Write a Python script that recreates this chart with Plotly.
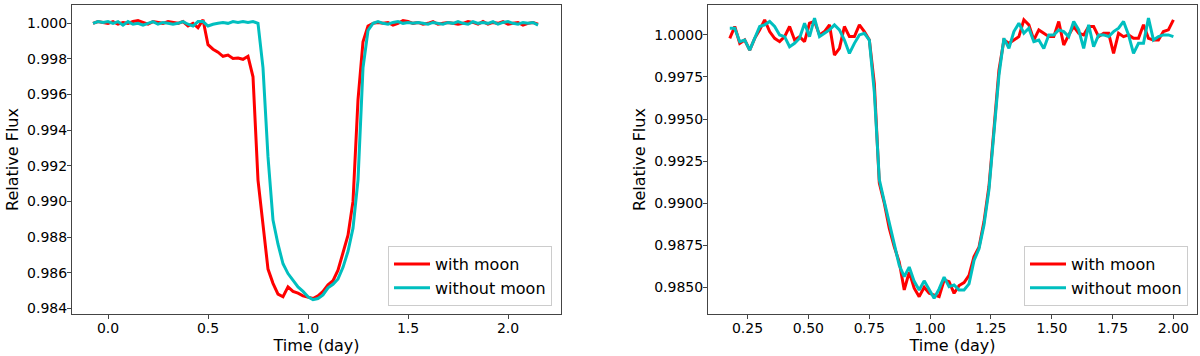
import numpy as np
import plotly.graph_objects as go

# ---- left panel: transit light curve, long sampling ----
t_left = np.round(-0.075 + 0.025 * np.arange(90), 3)

flux_left_moon = [
    1.0000, 1.0001, 1.00005, 1.0000, 1.0001, 0.99995, 1.00005, 1.0000, 1.0001, 1.00015,
    1.00005, 0.99995, 1.0001, 1.00005, 1.0000, 1.0001, 1.00005, 1.0000, 1.0001, 0.99985,
    1.0000, 0.99975, 1.0002, 0.9988, 0.99855, 0.99838, 0.99815, 0.99822, 0.99803, 0.99805,
    0.99798, 0.99815, 0.99700, 0.99120, 0.98870, 0.98620, 0.98540, 0.98480, 0.98465, 0.98520,
    0.98495, 0.98485, 0.98470, 0.98462, 0.98455, 0.98470, 0.98495, 0.98532, 0.98555, 0.98614,
    0.98717, 0.98810, 0.99000, 0.99570, 0.99897, 0.99985, 1.0000, 1.00005, 1.0000, 1.00005,
    0.9999, 1.0000, 1.00015, 1.0001, 1.0000, 1.00005, 0.99995, 1.0000, 1.0001, 0.99995,
    1.0000, 1.00005, 1.0000, 0.99995, 1.0000, 1.0001, 1.00005, 0.99995, 1.0001, 0.99995,
    1.00005, 1.0000, 1.0001, 0.99995, 1.0000, 1.00005, 0.9999, 1.0000, 1.00005, 0.99995,
]
flux_left_nomoon = [
    1.0000, 1.0001, 1.00005, 1.0001, 1.0000, 1.0001, 0.9999, 1.0001, 0.99995, 1.0000,
    0.9999, 1.0000, 1.0001, 0.99995, 1.00005, 1.0000, 0.99995, 1.0000, 1.0001, 0.99995,
    0.99985, 1.0001, 1.0001, 0.99985, 0.99995, 1.0000, 1.00005, 1.0000, 1.0001, 1.00005,
    1.0001, 1.00005, 1.0001, 1.0000, 0.9975, 0.9925, 0.98895, 0.98760, 0.98650, 0.98595,
    0.98555, 0.98520, 0.98495, 0.98465, 0.98448, 0.98455, 0.98475, 0.98515, 0.98535, 0.98565,
    0.98630, 0.98720, 0.98850, 0.99120, 0.99750, 0.99960, 1.0000, 1.0001, 1.0000, 0.99995,
    1.00005, 1.0001, 1.0000, 1.00005, 1.0000, 1.00005, 1.0000, 0.99995, 1.00005, 1.0000,
    0.99995, 1.00005, 1.0000, 1.0001, 1.0000, 0.99995, 1.0001, 1.0000, 1.00005, 1.0000,
    1.0001, 0.99995, 1.00005, 1.0001, 1.0000, 0.99995, 1.00005, 1.0000, 1.00005, 0.9999,
]

# ---- right panel: noisier light curve ----
t_right = np.linspace(0.177, 2.0, 90)

flux_right_moon = [
    0.9998, 1.0005, 0.9995, 0.9997, 0.9991, 0.9998, 1.0003, 1.0009, 1.0002, 0.9998,
    0.9996, 0.9999, 1.0005, 0.9997, 0.9999, 0.9996, 1.0007, 1.0008, 1.0000, 1.0002,
    1.0006, 0.9988, 0.9992, 1.0005, 0.9999, 0.9999, 1.0006, 1.0002, 0.9997, 0.9971,
    0.9912, 0.9900, 0.9885, 0.9874, 0.9865, 0.98484, 0.98590, 0.98494, 0.98444, 0.98500,
    0.98464, 0.98454, 0.98444, 0.98543, 0.98533, 0.98464, 0.98510, 0.98528, 0.98570, 0.98682,
    0.98738, 0.98890, 0.9910, 0.9944, 0.9979, 0.9997, 0.9995, 0.9997, 0.9999, 1.0009,
    1.0006, 0.9997, 1.0003, 1.0001, 0.9999, 0.9999, 1.0008, 0.9994, 1.0000, 1.0005,
    1.0001, 1.0000, 1.0005, 1.0005, 0.9999, 1.0001, 1.0001, 0.9989, 1.0001, 0.9999,
    1.0000, 0.9998, 0.9998, 1.0006, 0.9998, 0.9997, 0.9997, 1.0002, 1.0003, 1.0009,
]
flux_right_nomoon = [
    1.0004, 1.0004, 0.9996, 0.9997, 0.9991, 0.9998, 1.0005, 1.0006, 1.0008, 1.0005,
    1.0000, 0.9999, 0.9993, 0.9995, 0.9998, 1.0007, 0.9999, 1.0010, 0.9999, 1.0001,
    1.0003, 1.0006, 1.0003, 0.9997, 0.9989, 0.9995, 1.0000, 1.0001, 0.9997, 0.9966,
    0.9914, 0.9901, 0.9888, 0.9875, 0.9863, 0.98563, 0.98620, 0.98535, 0.98484, 0.98538,
    0.98484, 0.98435, 0.98490, 0.98560, 0.98504, 0.98514, 0.98484, 0.98484, 0.98520, 0.98660,
    0.98728, 0.98870, 0.9908, 0.9940, 0.9976, 0.9998, 0.9992, 1.0002, 1.0007, 1.0001,
    1.0004, 0.9996, 0.9997, 0.9992, 1.0000, 1.0000, 1.0003, 1.0002, 0.9999, 1.0008,
    1.0003, 0.9992, 1.0006, 0.9993, 1.0000, 1.0000, 0.9999, 1.0002, 1.0004, 1.0008,
    1.0000, 0.9989, 0.9995, 0.9995, 1.0010, 0.9997, 0.9999, 1.0000, 1.0000, 0.9999,
]

RED = "#ff0000"
CYAN = "#00bfbf"
FONT = "DejaVu Sans"

fig = go.Figure()

fig.add_trace(go.Scatter(x=t_left, y=flux_left_moon, mode="lines", name="with moon",
                         line=dict(color=RED, width=3), xaxis="x", yaxis="y", legend="legend"))
fig.add_trace(go.Scatter(x=t_left, y=flux_left_nomoon, mode="lines", name="without moon",
                         line=dict(color=CYAN, width=3), xaxis="x", yaxis="y", legend="legend"))
fig.add_trace(go.Scatter(x=t_right, y=flux_right_moon, mode="lines", name="with moon",
                         line=dict(color=RED, width=3), xaxis="x2", yaxis="y2", legend="legend2"))
fig.add_trace(go.Scatter(x=t_right, y=flux_right_nomoon, mode="lines", name="without moon",
                         line=dict(color=CYAN, width=3), xaxis="x2", yaxis="y2", legend="legend2"))

axis_common = dict(
    showline=True, linecolor="#444", linewidth=1, mirror=True,
    ticks="outside", ticklen=4, tickcolor="#444", ticklabelstandoff=-3,
    showgrid=False, zeroline=False, automargin=False,
    tickfont=dict(family=FONT, size=14, color="black"),
)
title_font = dict(family=FONT, size=16, color="black")

legend_common = dict(
    bgcolor="white", bordercolor="#cccccc", borderwidth=1,
    font=dict(family=FONT, size=16, color="black"),
    xanchor="right", yanchor="bottom", itemwidth=36, tracegroupgap=0,
)

fig.update_layout(
    width=1200, height=356,
    margin=dict(l=0, r=0, t=0, b=0),
    paper_bgcolor="white", plot_bgcolor="white",
    xaxis=dict(domain=[72 / 1200, 561 / 1200], range=[-0.18, 2.265],
               tickvals=[0, 0.5, 1.0, 1.5, 2.0], tickformat=".1f",
               title=dict(text="Time (day)", font=title_font, standoff=2), anchor="y", **axis_common),
    yaxis=dict(domain=[1 - 314 / 356, 1 - 5 / 356], range=[0.98368, 1.00103],
               dtick=0.002, tick0=0.984, tickformat=".3f",
               title=dict(text="Relative Flux", font=title_font, standoff=4), anchor="x", **axis_common),
    xaxis2=dict(domain=[708 / 1200, 1197 / 1200], range=[0.0875, 2.097],
                dtick=0.25, tick0=0, tickformat=".2f",
                title=dict(text="Time (day)", font=title_font, standoff=2), anchor="y2", **axis_common),
    yaxis2=dict(domain=[1 - 314 / 356, 1 - 5 / 356], range=[0.98341, 1.00178],
                dtick=0.0025, tick0=0.985, tickformat=".4f",
                title=dict(text="Relative Flux", font=title_font, standoff=4), anchor="x2", **axis_common),
    legend=dict(x=552 / 1200, y=1 - 306 / 356, **legend_common),
    legend2=dict(x=1188 / 1200, y=1 - 306 / 356, **legend_common),
)

# the page body has a default 8px margin; drop it so the figure fills the window
fig.write_html("out.html", config={"displayModeBar": False},
               post_script="document.body.style.margin='0';")
